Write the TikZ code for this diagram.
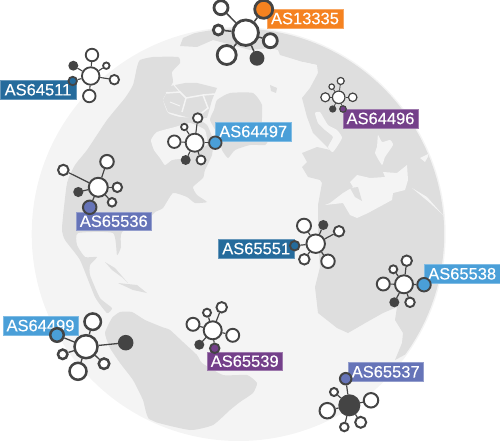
\documentclass[tikz,border=0pt]{standalone}
\usepackage{fontspec}
\setmainfont{Liberation Sans}
\newfontfamily\tagfont{Liberation Sans}[FakeBold=0.25]
\definecolor{ink}{HTML}{444444}
\definecolor{sea}{HTML}{F4F4F4}
\definecolor{ground}{HTML}{DEDEDE}
\definecolor{deepblue}{HTML}{256B9C}
\definecolor{skyblue}{HTML}{4A9FD8}
\definecolor{indigo}{HTML}{6674B8}
\definecolor{plum}{HTML}{74408A}
\definecolor{amber}{HTML}{F58220}
\tikzset{
  peer/.style={circle, draw=ink, fill=white, inner sep=0pt, minimum size=#1},
  dark/.style={peer=#1, fill=ink},
  tag/.style={draw=#1!70!white, fill=#1, text=white, font=\tagfont\fontsize{16.5}{18}\selectfont, inner sep=0pt, minimum width=75.5pt, minimum height=18.5pt}
}
\begin{document}
\begin{tikzpicture}[x=1pt, y=-1pt]
\useasboundingbox (0,0) rectangle (500,441);
% globe
\fill[sea] (238.7,234) circle (207);
\begin{scope}
\clip (238.7,234) circle (205.5);
\fill[ground] plot[smooth cycle, tension=.3] coordinates {(137,67) (140,60) (153,57) (178,57) (180,63) (172,72) (173,82) (167,92) (163,100) (168,113) (180,117) (195,118) (207,125) (213,140) (212,155) (205,170) (203,178) (193,187) (197,195) (207,202) (195,203) (187,197) (173,193) (163,208) (155,212) (152,215) (122,232) (121,247) (117,255) (113,233) (78,233) (77,245) (85,257) (97,257) (90,265) (90,275) (100,298) (112,308) (107,313) (95,297) (80,260) (65,240) (62,228) (67,183) (75,165) (87,150) (107,120) (125,98) (133,85)};
\draw[sea, line width=.8pt] (68,177) -- (62,200);
\fill[sea] plot[smooth cycle, tension=.3] coordinates {(151,140) (157,132) (175,127) (190,123) (205,130) (207,145) (195,150) (185,158) (172,160) (165,165) (160,158) (154,150)};
% arctic islands
\fill[ground] (170,86) -- (185,83) -- (197,83) -- (217,88) -- (212,100) -- (207,118) -- (190,118) -- (168,112) -- (163,100) -- cycle;
\draw[sea, line width=1.5pt] (166,93) -- (180,92) -- (186,98) -- (182,112);
\draw[sea, line width=1.5pt] (186,98) -- (203,95) -- (215,94);
\draw[sea, line width=1.5pt] (203,95) -- (208,108) -- (198,116);
\draw[sea, line width=1pt] (174,85) -- (180,92);
\draw[sea, line width=1pt] (170,102) -- (180,106);
% greenland
\fill[ground] plot[smooth cycle, tension=.3] coordinates {(217,100) (230,93) (253,93) (262,105) (262,125) (268,140) (265,145) (250,145) (235,150) (228,158) (222,150) (218,135) (210,120) (214,110)};
\fill[ground] (270,85) -- (277,88) -- (276,93) -- (271,91) -- cycle;
% caribbean
\fill[ground] (105,262) -- (115,268) -- (128,283) -- (123,278) -- (112,270) -- cycle;
\fill[ground] (118,283) -- (137,285) -- (147,293) -- (133,290) -- cycle;
% south america
\fill[ground] plot[smooth cycle, tension=.3] coordinates {(105,333) (112,318) (120,312) (132,312) (145,320) (162,327) (170,330) (183,342) (197,355) (202,363) (223,375) (247,375) (257,383) (253,393) (240,402) (230,410) (213,425) (190,430) (150,420) (143,400) (133,380) (120,363) (110,348)};
% eurasia and africa
\fill[ground] (180,46) -- (183,38) -- (195,33) -- (213,20) -- (260,10) -- (470,60) -- (470,320) -- (395,360) -- (402,343) -- (403,333) -- (395,320) -- (397,307) -- (383,313) -- (367,322) -- (348,333) -- (337,328) -- (318,313) -- (315,287) -- (320,267) -- (318,240) -- (318,205) -- (322,183) -- (320,180) -- (308,177) -- (302,167) -- (307,162) -- (302,153) -- (317,147) -- (330,150) -- (313,133) -- (307,117) -- (302,98) -- (310,88) -- (318,73) -- (317,65) -- (303,62) -- (290,58) -- (280,55) -- (278,50) -- (270,48) -- (250,50) -- (232,45) -- (213,40) -- (197,47) -- cycle;
% inland seas
\fill[sea] (285,68) -- (293,75) -- (305,78) -- (317,65) -- (303,62) -- cycle;
\fill[sea] plot[smooth cycle, tension=.3] coordinates {(315,113) (320,112) (328,125) (337,130) (342,138) (333,152) (328,147) (333,137) (325,130) (318,123)};
\fill[sea] plot[smooth cycle, tension=.3] coordinates {(378,135) (377,147) (375,153) (382,165) (385,157) (393,145) (390,140) (382,142)};
\fill[sea] (420,158) -- (430,153) -- (425,162) -- cycle;
\fill[sea] (412,188) -- (427,197) -- (443,215) -- (430,203) -- cycle;
\fill[sea] (325,205) -- (330,203) -- (343,193) -- (353,187) -- (350,182) -- (357,175) -- (370,178) -- (385,177) -- (383,172) -- (397,173) -- (407,165) -- (408,180) -- (405,190) -- (393,193) -- (392,200) -- (368,213) -- (357,218) -- (350,215) -- (343,203) -- cycle;
\fill[ground] (350,188) -- (358,187) -- (362,201) -- (355,197) -- cycle;
\end{scope}
% labels
\node[tag=deepblue] (t64511) at (38,89.8) {AS64511};
\node[tag=skyblue] (t64497) at (253.2,131.5) {AS64497};
\node[tag=indigo] (t65536) at (113.8,221.2) {AS65536};
\node[tag=amber] (t13335) at (305,18.5) {AS13335};
\node[tag=plum] (t64496) at (380.5,118.5) {AS64496};
\node[tag=deepblue] (t65551) at (256.2,248.6) {AS65551};
\node[tag=skyblue] (t65538) at (462.2,273.8) {AS65538};
\node[tag=skyblue] (t64499) at (40.5,325.6) {AS64499};
\node[tag=plum] (t65539) at (244.7,361.2) {AS65539};
\node[tag=indigo] (t65537) at (385.7,371.8) {AS65537};
% AS64511
\begin{scope}[line width=1.8pt]
\node[peer=17.5] (a0) at (90.7,76) {};
\node[peer=12.5] (a1) at (92,55) {};
\node[dark=8] (a2) at (73.3,65.7) {};
\node[peer=6.5] (a3) at (106.3,65.7) {};
\node[peer=9.5] (a4) at (114.3,79.7) {};
\node[peer=12.5] (a5) at (89.3,96) {};
\node[peer=8.5, fill=deepblue] (a6) at (72.7,81) {};
\foreach \n in {a1,a2,a3,a4,a5,a6} \draw[ink, line width=1.1pt] (a0) -- (\n);
\end{scope}
% AS64497
\begin{scope}[line width=1.8pt]
\node[peer=18] (b0) at (194.7,142.7) {};
\node[peer=9.5] (b1) at (197.7,118) {};
\node[peer=6.5] (b2) at (184.3,127) {};
\node[peer=12.5] (b3) at (174.3,141.7) {};
\node[dark=8] (b4) at (185.7,160) {};
\node[peer=9] (b5) at (201,160) {};
\node[peer=12.5, fill=skyblue] (b6) at (215.3,142.7) {};
\foreach \n in {b1,b2,b3,b4,b5,b6} \draw[ink, line width=1.1pt] (b0) -- (\n);
\end{scope}
% AS65536
\begin{scope}[line width=2pt]
\node[peer=19] (c0) at (98.3,187.3) {};
\node[peer=13.5] (c1) at (107,161.7) {};
\node[peer=10.5] (c2) at (63.3,170) {};
\node[dark=8] (c3) at (78.3,192) {};
\node[peer=9.5] (c4) at (117.3,187.3) {};
\node[peer=8.5] (c5) at (112,202.3) {};
\node[peer=13.5, fill=indigo] (c6) at (89.7,207.3) {};
\foreach \n in {c1,c2,c3,c4,c5,c6} \draw[ink, line width=1.2pt] (c0) -- (\n);
\end{scope}
% AS13335
\begin{scope}[line width=2.8pt]
\node[peer=25.5] (d0) at (245.7,32.7) {};
\node[peer=14] (d1) at (221,7.7) {};
\node[peer=10] (d2) at (218.3,30) {};
\node[peer=19] (d3) at (226.7,55) {};
\node[peer=18, fill=amber] (d4) at (263.7,9.3) {};
\node[peer=14] (d5) at (270.3,40.7) {};
\node[dark=12] (d6) at (257,58.3) {};
\foreach \n in {d1,d2,d3,d4,d5,d6} \draw[ink, line width=1.5pt] (d0) -- (\n);
\end{scope}
% AS64496
\begin{scope}[line width=1.2pt]
\node[peer=12.5] (e0) at (338.7,97.3) {};
\node[peer=7] (e1) at (340.7,81) {};
\node[peer=5.5] (e2) at (331.7,86.7) {};
\node[peer=9] (e3) at (325.3,97.3) {};
\node[peer=8.5] (e4) at (352.7,97.3) {};
\node[dark=6] (e5) at (332.7,109) {};
\node[peer=6.5, fill=plum] (e6) at (343,109) {};
\foreach \n in {e1,e2,e3,e4,e5,e6} \draw[ink, line width=.8pt] (e0) -- (\n);
\end{scope}
% AS64499
\begin{scope}[line width=2.5pt]
\node[peer=23] (f0) at (86,346.7) {};
\node[peer=16.5] (f1) at (92.7,321.7) {};
\node[peer=13.5, fill=skyblue] (f2) at (57,335) {};
\node[peer=9.5] (f3) at (62.7,354.3) {};
\node[peer=17] (f4) at (78,371.3) {};
\node[peer=10.5] (f5) at (104,363.7) {};
\node[dark=13] (f6) at (125.7,342.7) {};
\foreach \n in {f1,f2,f3,f4,f5,f6} \draw[ink, line width=1.3pt] (f0) -- (\n);
\end{scope}
% AS65539
\begin{scope}[line width=1.9pt]
\node[peer=18] (g0) at (212.7,330.3) {};
\node[peer=10.5] (g1) at (221.7,307.3) {};
\node[peer=8] (g2) at (207,312.7) {};
\node[peer=13] (g3) at (193,324.3) {};
\node[dark=8] (g4) at (199.3,344.7) {};
\node[peer=9.5, fill=plum] (g5) at (214.7,348.3) {};
\node[peer=13] (g6) at (232.7,335.3) {};
\foreach \n in {g1,g2,g3,g4,g5,g6} \draw[ink, line width=1.2pt] (g0) -- (\n);
\end{scope}
% AS65551
\begin{scope}[line width=1.9pt]
\node[peer=18.5] (h0) at (315.7,243.7) {};
\node[peer=14] (h1) at (304,225.7) {};
\node[dark=8] (h2) at (323.3,225) {};
\node[peer=10.5] (h3) at (339,231.3) {};
\node[peer=9.5, fill=deepblue] (h4) at (294.7,245.7) {};
\node[peer=10.5] (h5) at (304.3,259.3) {};
\node[peer=13.5] (h6) at (328,261.3) {};
\foreach \n in {h1,h2,h3,h4,h5,h6} \draw[ink, line width=1.2pt] (h0) -- (\n);
\end{scope}
% AS65538
\begin{scope}[line width=1.9pt]
\node[peer=18] (i0) at (404,284.3) {};
\node[peer=10.5] (i1) at (406.7,260.7) {};
\node[peer=8] (i2) at (393.3,269.3) {};
\node[peer=13] (i3) at (383.3,284) {};
\node[dark=8] (i4) at (394.3,302.3) {};
\node[peer=9.5] (i5) at (410,302.3) {};
\node[peer=13.5, fill=skyblue] (i6) at (424,284.7) {};
\foreach \n in {i1,i2,i3,i4,i5,i6} \draw[ink, line width=1.2pt] (i0) -- (\n);
\end{scope}
% AS65537
\begin{scope}[line width=2pt]
\node[dark=20] (j0) at (349.3,405.3) {};
\node[peer=11.5, fill=indigo] (j1) at (345.7,378.7) {};
\node[peer=8] (j2) at (334,392) {};
\node[peer=15.5] (j3) at (327.3,410.7) {};
\node[peer=14.5] (j4) at (371,400.3) {};
\node[peer=11] (j5) at (360.7,422.3) {};
\node[peer=8.5] (j6) at (344.3,427) {};
\foreach \n in {j1,j2,j3,j4,j5,j6} \draw[ink, line width=1.2pt] (j0) -- (\n);
\end{scope}
\end{tikzpicture}
\end{document}
